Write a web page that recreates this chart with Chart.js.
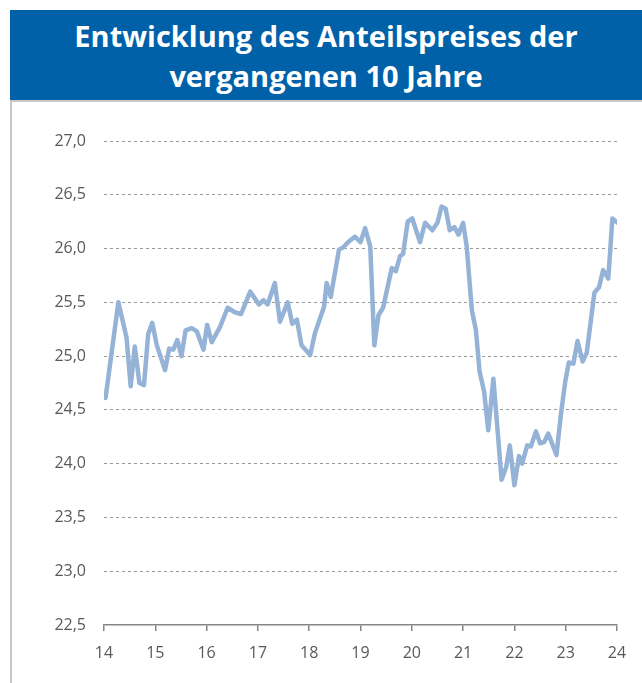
<!DOCTYPE html>
<html>
<head>
<meta charset="utf-8">
<script src="https://cdn.jsdelivr.net/npm/chart.js@4.4.1/dist/chart.umd.min.js"></script>
<style>
  html, body { margin: 0; padding: 0; background: #fff; }
  body { width: 642px; height: 683px; position: relative; overflow: hidden; }
  #banner {
    position: absolute; left: 10px; top: 10px; width: 632px; height: 90px;
    background: #0060a8; color: #fff; text-align: center;
    font-family: "Open Sans", sans-serif; font-weight: 700; font-size: 29px; line-height: 40px;
    padding-top: 6px; box-sizing: border-box;
  }
  #panel {
    position: absolute; left: 10px; top: 100px; width: 632px; height: 583px;
    border-left: 2px solid #c8c8c8; border-top: 2px solid #c8c8c8; box-sizing: border-box;
  }
  #wrap { position: absolute; left: 0; top: 0; width: 630px; height: 581px; }
</style>
</head>
<body>
<div id="banner">Entwicklung des Anteilspreises der<br>vergangenen 10 Jahre</div>
<div id="panel"><div id="wrap"><canvas id="chart"></canvas></div></div>
<script>
// dates as decimal years (14 = 2014), prices
const years = [
  14.03, 14.28, 14.44, 14.52, 14.60, 14.69, 14.78, 14.86, 14.94, 15.03,
  15.19, 15.27, 15.35, 15.43, 15.51, 15.59, 15.71, 15.81, 15.94, 16.01,
  16.10, 16.26, 16.41, 16.54, 16.67, 16.85, 17.02, 17.11, 17.19, 17.33,
  17.43, 17.58, 17.67, 17.76, 17.85, 18.02, 18.11, 18.29, 18.34, 18.42,
  18.58, 18.66, 18.76, 18.89, 19.00, 19.09, 19.19, 19.27, 19.35, 19.44,
  19.61, 19.69, 19.77, 19.83, 19.92, 20.01, 20.16, 20.26, 20.40, 20.50,
  20.58, 20.66, 20.74, 20.83, 20.91, 21.00, 21.07, 21.17, 21.25, 21.32,
  21.41, 21.49, 21.59, 21.65, 21.75, 21.84, 21.91, 22.00, 22.09, 22.15,
  22.25, 22.32, 22.42, 22.50, 22.58, 22.66, 22.82, 22.91, 22.99, 23.06,
  23.15, 23.23, 23.33, 23.41, 23.56, 23.65, 23.73, 23.83, 23.91, 24.01,
];
const prices = [
  24.61, 25.50, 25.17, 24.72, 25.09, 24.75, 24.73, 25.20, 25.31, 25.10,
  24.87, 25.07, 25.06, 25.15, 25.00, 25.24, 25.26, 25.23, 25.06, 25.29,
  25.13, 25.27, 25.45, 25.41, 25.39, 25.60, 25.48, 25.52, 25.48, 25.68,
  25.32, 25.50, 25.30, 25.34, 25.10, 25.01, 25.21, 25.46, 25.68, 25.55,
  25.99, 26.01, 26.06, 26.11, 26.06, 26.19, 26.02, 25.10, 25.38, 25.45,
  25.82, 25.79, 25.93, 25.95, 26.25, 26.28, 26.06, 26.24, 26.17, 26.24,
  26.39, 26.37, 26.17, 26.20, 26.13, 26.24, 26.02, 25.43, 25.24, 24.86,
  24.67, 24.31, 24.79, 24.44, 23.85, 23.97, 24.17, 23.80, 24.07, 24.00,
  24.17, 24.16, 24.30, 24.19, 24.20, 24.28, 24.08, 24.47, 24.76, 24.94,
  24.93, 25.14, 24.95, 25.03, 25.59, 25.64, 25.80, 25.72, 26.28, 26.24,
];
const yMin = 22.5;
const yMax = 27.0;
const yStep = 0.5;
const xMin = 14;
const xMax = 24;

const fmt = (v) => v.toFixed(1).replace('.', ',');
const labelFont = { family: 'Open Sans', size: 16 };

new Chart(document.getElementById('chart'), {
  type: 'line',
  data: {
    datasets: [{
      data: years.map((x, i) => ({ x, y: prices[i] })),
      borderColor: '#95b3d7',
      borderWidth: 4.5,
      pointRadius: 0,
      tension: 0,
      borderJoinStyle: 'round',
      borderCapStyle: 'round',
    }],
  },
  options: {
    responsive: true,
    maintainAspectRatio: false,
    animation: false,
    layout: { padding: { top: 39, right: 25, left: 0, bottom: 0 } },
    plugins: { legend: { display: false }, tooltip: { enabled: false } },
    scales: {
      x: {
        type: 'linear',
        min: xMin,
        max: xMax,
        afterFit: (axis) => { axis.height = 58; },
        ticks: { stepSize: 1, color: '#595959', font: labelFont, padding: 13, callback: (v) => v },
        grid: { drawOnChartArea: false, drawTicks: true, tickLength: 6, color: '#868686', lineWidth: 1.5 },
        border: { display: true, color: '#868686', width: 1.5 },
      },
      y: {
        min: yMin,
        max: yMax,
        afterFit: (axis) => { axis.width = 92; },
        ticks: { stepSize: yStep, color: '#595959', font: labelFont, padding: 18, callback: (v) => fmt(v) },
        grid: {
          drawTicks: false,
          color: (ctx) => (ctx.tick && ctx.tick.value === yMin ? 'rgba(0,0,0,0)' : '#9a9a9a'),
          lineWidth: 1,
        },
        border: { display: false, dash: [3, 3] },
      },
    },
  },
});
</script>
</body>
</html>
